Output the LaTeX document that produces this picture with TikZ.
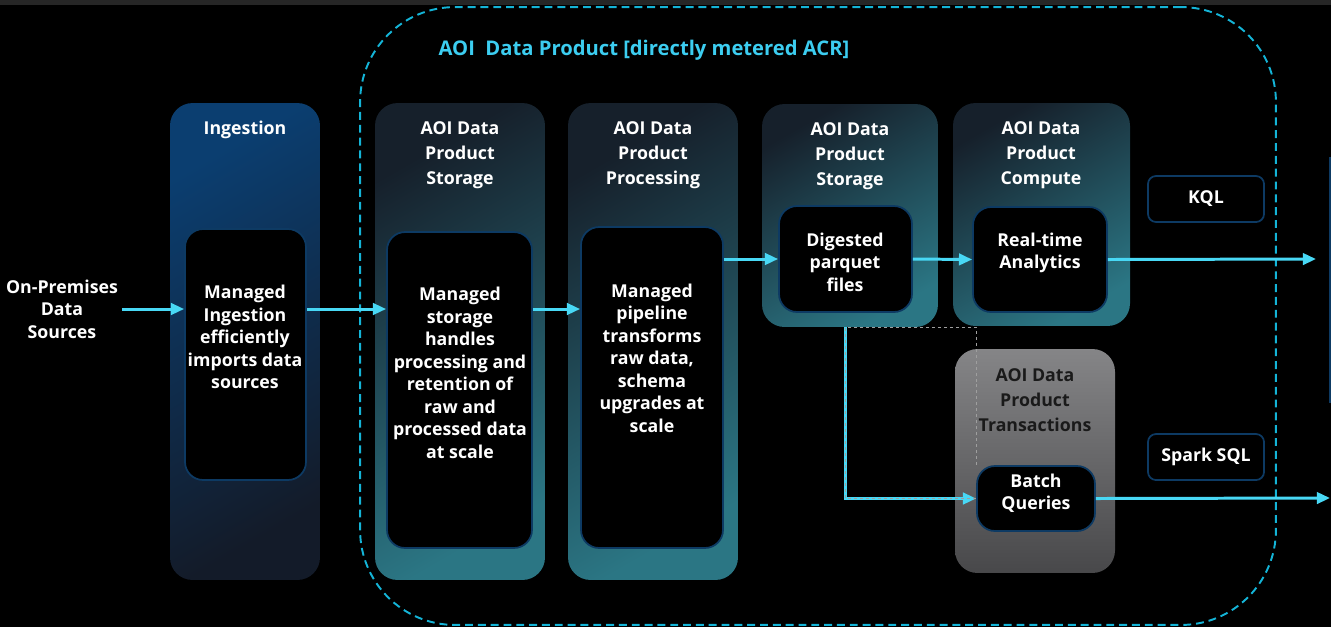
\documentclass[tikz,border=0pt]{standalone}
\usepackage{fontspec}
\setmainfont{Open Sans}
\usetikzlibrary{arrows.meta,positioning}
\definecolor{flowC}{HTML}{48D8F5}
\definecolor{frameC}{HTML}{14B4D7}
\definecolor{titleC}{HTML}{3CCDF0}
\definecolor{innerC}{HTML}{0D3A63}
\definecolor{stripC}{HTML}{262626}
\definecolor{ingTop}{HTML}{0B3E70}
\definecolor{ingBot}{HTML}{131B29}
\definecolor{tealTop}{HTML}{16202B}
\definecolor{tealBot}{HTML}{2B7684}
\definecolor{grayTop}{HTML}{858587}
\definecolor{grayBot}{HTML}{48484A}
\definecolor{darkTxt}{HTML}{1A1A1A}

\begin{document}
\begin{tikzpicture}[x=.02cm,y=-.02cm,>={Triangle[length=7.5pt,width=6.5pt]},
 col/.style={rounded corners=.45cm,minimum width=3.4cm,minimum height=9.54cm,inner sep=0pt},
 blueCol/.style={col,top color=ingTop,bottom color=ingBot,shading angle=30},
 tealCol/.style={col,top color=tealTop,bottom color=tealBot,shading angle=30},
 grayCol/.style={col,top color=grayTop,bottom color=grayBot},
 inBox/.style={draw=innerC,line width=1pt,fill=black,rounded corners=.36cm,inner sep=0pt},
 txt/.style={text=white,font=\bfseries\fontsize{10.1}{12.8}\selectfont,align=center,inner sep=0pt},
 hd/.style={txt,font=\bfseries\fontsize{10.1}{14.2}\selectfont},
 tag/.style={txt,draw=innerC,line width=1pt,fill=black,rounded corners=.16cm,minimum width=2.32cm,minimum height=.92cm},
 frameBox/.style={draw=frameC,line width=1.1pt,dash pattern=on 4.5pt off 2.8pt,rounded corners=1.9cm,
  minimum width=18.32cm,minimum height=12.36cm,inner sep=0pt},
 flow/.style={->,draw=flowC,line width=1.7pt},
 dotLine/.style={draw=gray!75,dash pattern=on 1.7pt off 1.7pt,line width=.6pt}]
 \path[use as bounding box,fill=black] (0,0) rectangle (1331,627);
 \fill[stripC] (0,0) rectangle (1331,5);
 \node[frameBox] (frame) at (818,316) {};
 \node[text=titleC,font=\bfseries\fontsize{11.5}{14}\selectfont,inner sep=0pt] (title) at (644,50) {AOI\ \ Data Product [directly metered ACR]};

 \node[blueCol,minimum width=3cm] (ing) at (245,341.5) {};
 \node[inBox,minimum width=2.42cm,minimum height=5.02cm] (ingIn) at (245.5,354.5) {};
 \node[hd] (ingHd) at (245,130) {Ingestion};
 \node[txt] (ingTxt) at (245,337) {Managed\\Ingestion\\efficiently\\imports data\\sources};

 \node[tealCol] (sto) at (460,341.5) {};
 \node[inBox,minimum width=2.9cm,minimum height=6.32cm] (stoIn) at (459.5,390) {};
 \node[hd] (stoHd) at (460,155) {AOI Data\\Product\\Storage};
 \node[txt] (stoTxt) at (460,373) {Managed\\storage\\handles\\processing and\\retention of\\raw and\\processed data\\at scale};

 \node[tealCol] (proc) at (653,341.5) {};
 \node[inBox,minimum width=2.84cm,minimum height=6.42cm] (procIn) at (652,387.5) {};
 \node[hd] (procHd) at (653,155) {AOI Data\\Product\\Processing};
 \node[txt] (procTxt) at (652,358) {Managed\\pipeline\\transforms\\raw data,\\schema\\upgrades at\\scale};

 \node[tealCol,minimum width=3.52cm,minimum height=4.46cm] (dig) at (850,215.5) {};
 \node[inBox,minimum width=2.66cm,minimum height=2.12cm] (digIn) at (845.5,259) {};
 \node[hd] (digHd) at (850,156) {AOI Data\\Product\\Storage};
 \node[txt] (digTxt) at (845,262) {Digested\\parquet\\files};

 \node[tealCol,minimum width=3.54cm,minimum height=4.46cm] (comp) at (1041.5,214.5) {};
 \node[inBox,minimum width=2.68cm,minimum height=2.1cm] (compIn) at (1040,259.5) {};
 \node[hd] (compHd) at (1041,155) {AOI Data\\Product\\Compute};
 \node[txt] (compTxt) at (1040,253) {Real-time\\Analytics};

 \node[grayCol,minimum width=3.2cm,minimum height=4.48cm] (trx) at (1035,461) {};
 \node[inBox,minimum width=2.36cm,minimum height=1.3cm] (trxIn) at (1036,498.5) {};
 \node[hd,text=darkTxt] (trxHd) at (1035,400) {AOI Data\\Product\\Transactions};
 \node[txt] (trxTxt) at (1036,493) {Batch\\Queries};

 \node[tag] (kql) at (1206,199) {KQL};
 \node[tag] (spark) at (1206,457) {Spark SQL};
 \node[txt] (src) at (62,309) {On-Premises\\Data\\Sources};
 \coordinate (kqlEnd) at (1316,259);
 \coordinate (sparkEnd) at (1330,498);
 \draw[innerC,line width=.8pt] (1330,157) -- (1330,403);

 \draw[flow] ([xshift=.08cm]src.east) -- (src.east -| ingIn.west);
 \draw[flow] (ingIn.east |- src.east) -- (stoIn.west |- src.east);
 \draw[flow] (stoIn.east |- src.east) -- (procIn.west |- src.east);
 \draw[flow] (procIn.east |- digIn.west) -- (digIn.west);
 \draw[flow] (digIn.east) -- (compIn.west);
 \draw[flow] (compIn.east) -- (kqlEnd);
 \draw[flow] (trxIn.east) -- (sparkEnd);
 \draw[flow] (digIn.south |- dig.south) |- (trxIn.west);
 \draw[dotLine] (trxIn.north west) |- (digIn.south |- dig.south) |- (trxIn.west);
\end{tikzpicture}
\end{document}
